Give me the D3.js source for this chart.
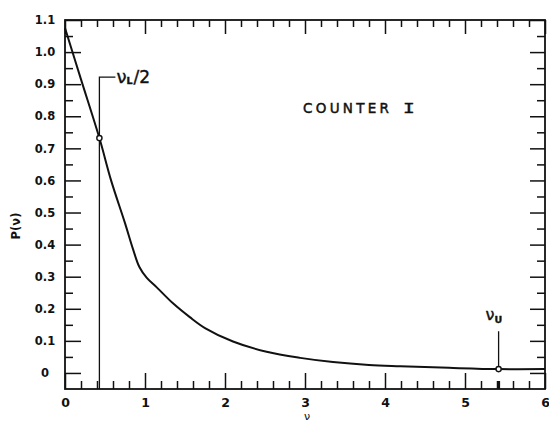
<!DOCTYPE html>
<html>
<head>
<meta charset="utf-8">
<script src="https://cdn.jsdelivr.net/npm/d3@7"></script>
<style>
  html, body { margin: 0; padding: 0; background: #fff; }
  svg { display: block; }
  .tick text { font-family: "DejaVu Sans", sans-serif; font-weight: bold; font-size: 11.5px; fill: #111; }
  .tick line { stroke: #111; stroke-width: 1.5; }
  .domain { display: none; }
</style>
</head>
<body>
<script>
// Detection probability P(ν) versus ν for counter I
const nu = [0, 0.2, 0.43, 0.575, 0.75, 0.85, 0.93, 1.02, 1.15, 1.35, 1.56, 1.75, 2.1, 2.52, 2.94, 3.35, 3.8, 4.19, 4.8, 5.42, 6.0];
const prob = [1.075, 0.915, 0.732, 0.601, 0.467, 0.386, 0.33, 0.297, 0.266, 0.217, 0.174, 0.140, 0.098, 0.066, 0.047, 0.034, 0.025, 0.021, 0.016, 0.012, 0.012];

// Marked points: ν_L/2 and ν_U
const markNu = [0.43, 5.42];
const markP = [0.732, 0.012];
const markLeaderTop = [0.922, 0.13];

const xMajor = [0, 1, 2, 3, 4, 5, 6];
const xMajorLabels = ["0", "1", "2", "3", "4", "5", "6"];
const yMajor = [0, 0.1, 0.2, 0.3, 0.4, 0.5, 0.6, 0.7, 0.8, 0.9, 1.0, 1.1];
const yMajorLabels = ["0", "0.1", "0.2", "0.3", "0.4", "0.5", "0.6", "0.7", "0.8", "0.9", "1.0", "1.1"];
const xMinor = d3.range(0.2, 6, 0.2).filter(v => Math.abs(v - Math.round(v)) > 1e-6);
const yMinor = d3.range(0.05, 1.1, 0.1);

const W = 549, H = 423;
const L = 65, R = 545, T = 20, B = 389;

const svg = d3.select("body").append("svg").attr("width", W).attr("height", H);

const x = d3.scaleLinear().domain([0, 6]).range([L, R]);
const y = d3.scaleLinear().domain([-0.05, 1.1]).range([B, T]);

// Axes with inward-pointing ticks on all four sides
const fmtX = (d, i) => xMajorLabels[i];
const fmtY = (d, i) => yMajorLabels[i];

svg.append("g").attr("transform", `translate(0,${B})`)
  .call(d3.axisBottom(x).tickValues(xMajor).tickFormat(fmtX).tickSizeInner(-16).tickSizeOuter(0).tickPadding(9))
  .call(g => g.selectAll("text").style("font-size", "12.5px"));
svg.append("g").attr("transform", `translate(0,${B})`)
  .call(d3.axisBottom(x).tickValues(xMinor).tickFormat("").tickSizeInner(-8).tickSizeOuter(0));

svg.append("g").attr("transform", `translate(0,${T})`)
  .call(d3.axisTop(x).tickValues(xMajor).tickFormat("").tickSizeInner(-14).tickSizeOuter(0));
svg.append("g").attr("transform", `translate(0,${T})`)
  .call(d3.axisTop(x).tickValues(xMinor).tickFormat("").tickSizeInner(-7).tickSizeOuter(0));

svg.append("g").attr("transform", `translate(${L},0)`)
  .call(d3.axisLeft(y).tickValues(yMajor).tickFormat(fmtY).tickSizeInner(-16).tickSizeOuter(0).tickPadding(0))
  .call(g => g.selectAll("text").attr("text-anchor", "middle").attr("x", -20));
svg.append("g").attr("transform", `translate(${L},0)`)
  .call(d3.axisLeft(y).tickValues(yMinor).tickFormat("").tickSizeInner(-8).tickSizeOuter(0));

svg.append("g").attr("transform", `translate(${R},0)`)
  .call(d3.axisRight(y).tickValues(yMajor).tickFormat("").tickSizeInner(-15).tickSizeOuter(0));
svg.append("g").attr("transform", `translate(${R},0)`)
  .call(d3.axisRight(y).tickValues(yMinor).tickFormat("").tickSizeInner(-8).tickSizeOuter(0));

// Frame
svg.append("rect")
  .attr("x", L).attr("y", T).attr("width", R - L).attr("height", B - T)
  .attr("fill", "none").attr("stroke", "#111").attr("stroke-width", 1.8);

// Emphasised tick at ν_U on the bottom axis
svg.append("line")
  .attr("x1", x(markNu[1])).attr("x2", x(markNu[1]))
  .attr("y1", B).attr("y2", B - 8)
  .attr("stroke", "#111").attr("stroke-width", 3);

// Curve
const pts = nu.map((v, i) => [v, prob[i]]);
svg.append("path")
  .datum(pts)
  .attr("fill", "none").attr("stroke", "#111").attr("stroke-width", 2)
  .attr("d", d3.line().x(d => x(d[0])).y(d => y(d[1])).curve(d3.curveCatmullRom.alpha(0.5)));

// ν_L/2 leader: full vertical to the axis, elbow to the label
svg.append("path")
  .attr("fill", "none").attr("stroke", "#111").attr("stroke-width", 1.3)
  .attr("d", `M${x(markNu[0]) + 16},${y(markLeaderTop[0])} H${x(markNu[0])} V${B}`);

// ν_U leader
svg.append("line")
  .attr("x1", x(markNu[1])).attr("x2", x(markNu[1]))
  .attr("y1", y(markLeaderTop[1])).attr("y2", y(markP[1]))
  .attr("stroke", "#111").attr("stroke-width", 1.3);

// Open circle markers
svg.selectAll("circle.mark")
  .data(markNu.map((v, i) => [v, markP[i]]))
  .join("circle").attr("class", "mark")
  .attr("cx", d => x(d[0])).attr("cy", d => y(d[1])).attr("r", 2.6)
  .attr("fill", "#fff").attr("stroke", "#111").attr("stroke-width", 1.4);

// Annotation labels
const lblL = svg.append("text")
  .attr("x", x(markNu[0]) + 17).attr("y", y(markLeaderTop[0]) + 6)
  .attr("font-family", "DejaVu Sans, sans-serif").attr("fill", "#111")
  .attr("stroke", "#111").attr("stroke-width", 0.4);
lblL.append("tspan").attr("font-size", "18px").text("ν");
lblL.append("tspan").attr("font-size", "9.5px").attr("font-weight", "bold").attr("dy", 1).text("L");
lblL.append("tspan").attr("font-size", "17px").attr("dy", -1).attr("dx", 1).text("/2");

const lblU = svg.append("text")
  .attr("x", x(markNu[1]) - 13).attr("y", y(markLeaderTop[1]) - 11)
  .attr("font-family", "DejaVu Sans, sans-serif").attr("fill", "#111")
  .attr("stroke", "#111").attr("stroke-width", 0.4);
lblU.append("tspan").attr("font-size", "16px").text("ν");
lblU.append("tspan").attr("font-size", "9.5px").attr("font-weight", "bold").attr("dy", 3).text("U");

// Title inside plot
svg.append("text")
  .attr("x", 303).attr("y", 113)
  .attr("font-family", "DejaVu Sans, sans-serif").attr("font-size", "13.5px")
  .attr("letter-spacing", "3.3px").attr("fill", "#111")
  .attr("stroke", "#111").attr("stroke-width", 0.45)
  .text("COUNTER");
svg.append("text")
  .attr("transform", "translate(403,113) scale(1.45,1)")
  .attr("font-family", "DejaVu Sans Mono, monospace").attr("font-size", "13.5px")
  .attr("fill", "#111").attr("stroke", "#111").attr("stroke-width", 0.35)
  .text("I");

// Axis titles
svg.append("text")
  .attr("transform", "translate(20,226) rotate(-90)")
  .attr("text-anchor", "middle")
  .attr("font-family", "DejaVu Sans, sans-serif").attr("font-weight", "bold").attr("font-size", "11.5px")
  .attr("fill", "#111")
  .text("P(ν)");
svg.append("text")
  .attr("x", 307).attr("y", 420)
  .attr("text-anchor", "middle")
  .attr("font-family", "DejaVu Sans, sans-serif").attr("font-size", "11px")
  .attr("fill", "#111")
  .text("ν");
</script>
</body>
</html>
